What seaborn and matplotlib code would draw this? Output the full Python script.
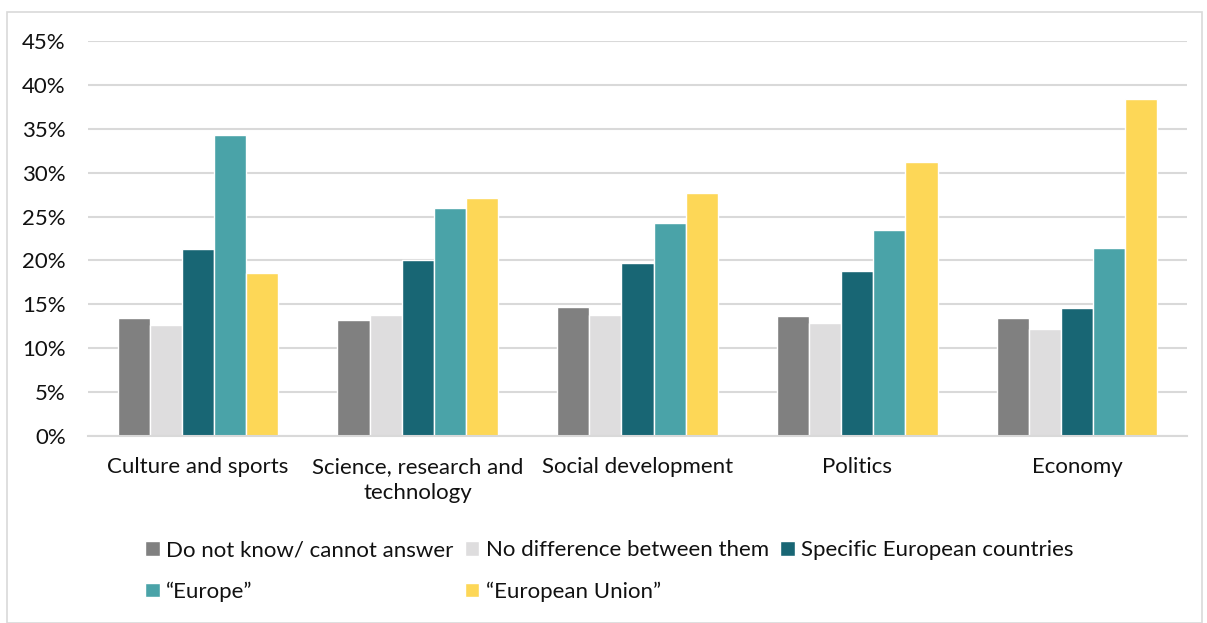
import matplotlib
matplotlib.use("Agg")
import matplotlib.pyplot as plt
import seaborn as sns
import pandas as pd
from matplotlib.patches import Rectangle
from matplotlib.ticker import PercentFormatter

categories = ["Culture and sports", "Science, research and\ntechnology", "Social development", "Politics", "Economy"]
series_names = ["Do not know/ cannot answer", "No difference between them", "Specific European countries",
                "\u201cEurope\u201d", "\u201cEuropean Union\u201d"]
dont_know = [13.4, 13.2, 14.7, 13.7, 13.4]
no_difference = [12.6, 13.8, 13.8, 12.9, 12.2]
specific_countries = [21.3, 20.0, 19.7, 18.8, 14.6]
europe = [34.3, 26.0, 24.3, 23.5, 21.4]
european_union = [18.6, 27.1, 27.7, 31.2, 38.4]
colors = ["#808080", "#DEDDDE", "#186674", "#4AA3A8", "#FDD757"]

rows = []
for name, vals in zip(series_names, [dont_know, no_difference, specific_countries, europe, european_union]):
    for c, v in zip(categories, vals):
        rows.append({"category": c, "series": name, "value": v / 100})
df = pd.DataFrame(rows)

sns.set_theme(style="white")
plt.rcParams["font.family"] = ["Lato", "DejaVu Sans"]

FS = 16
fig = plt.figure(figsize=(12.07, 6.23), dpi=100)
ax = fig.add_axes([88/1207, 1 - 436/623, (1187-88)/1207, (436-41)/623])

sns.barplot(data=df, x="category", y="value", hue="series", order=categories,
            hue_order=series_names, palette=colors, width=0.73, gap=0,
            saturation=1, ax=ax, legend=True)

ax.set_ylim(0, 0.45)
ax.set_yticks([i * 0.05 for i in range(10)])
ax.yaxis.set_major_formatter(PercentFormatter(1.0, decimals=0))
ax.grid(axis="y", color="#D9D9D9", linewidth=1.5)
ax.set_axisbelow(True)
for s in ["top", "right", "left"]:
    ax.spines[s].set_visible(False)
ax.spines["bottom"].set_color("#D9D9D9")
ax.spines["bottom"].set_linewidth(1.5)
ax.tick_params(axis="both", length=0, labelsize=FS, colors="#111111")
ax.tick_params(axis="x", pad=15)
ax.tick_params(axis="y", pad=16)
for t in ax.get_xticklabels():
    t.set_linespacing(1.4)
ax.set_xlabel("")
ax.set_ylabel("")

handles, labels = ax.get_legend_handles_labels()
ax.get_legend().remove()
order = [0, 3, 1, 4, 2]
fig.legend([handles[i] for i in order], [labels[i] for i in order], loc="center",
           bbox_to_anchor=(0.505, 1 - 571/623), ncol=3,
           frameon=False, fontsize=FS, handlelength=0.65, handleheight=0.65,
           handletextpad=0.3, columnspacing=0.5, labelspacing=0.95, borderaxespad=0,
           labelcolor="#111111")

fig.patches.append(Rectangle((7/1207, 0), (1202-7)/1207, 1 - 12/623, transform=fig.transFigure,
                             fill=False, edgecolor="#D9D9D9", linewidth=1.2))

fig.savefig("out.png", dpi=100)
